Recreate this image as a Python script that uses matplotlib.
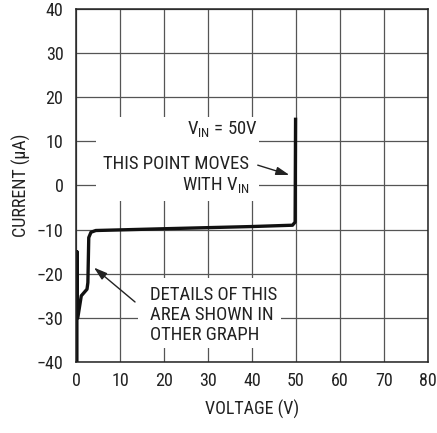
import matplotlib
matplotlib.use("Agg")
import matplotlib.pyplot as plt
from matplotlib.patches import Rectangle

fam = "Roboto Condensed"
plt.rcParams['font.family'] = [fam, 'DejaVu Sans']
plt.rcParams['mathtext.fontset'] = 'custom'
plt.rcParams['mathtext.rm'] = fam
plt.rcParams['mathtext.it'] = fam

# Data
voltage = [0.2, 0.2, 0.2, 0.4, 1.2, 2.5, 2.7, 2.9, 3.4, 4.5, 20.0, 40.0, 49.2, 49.8, 49.9]
current = [-40, -15, -30, -30, -25, -23.5, -22, -11.8, -10.6, -10.2, -9.8, -9.3, -9.0, -8.3, 15]

x_ticks = [0, 10, 20, 30, 40, 50, 60, 70, 80]
y_ticks = [-40, -30, -20, -10, 0, 10, 20, 30, 40]

fig = plt.figure(figsize=(4.37, 4.33), dpi=100)
ax = fig.add_axes([76/437, 1 - 362/433, 352/437, 353/433])

ax.plot(voltage, current, color='#111111', lw=2.4, solid_joinstyle='round', zorder=5)

ax.set_xlim(0, 80)
ax.set_ylim(-40, 40)
ax.set_xticks(x_ticks)
ax.set_yticks(y_ticks)
ax.grid(True, color='#555555', lw=0.9, zorder=0)
ax.set_axisbelow(True)
ax.tick_params(length=0, labelsize=13, colors='#222222')
ax.tick_params(axis='y', pad=9)
ax.tick_params(axis='x', pad=7)
for s in ax.spines.values():
    s.set_color('#222222')
    s.set_linewidth(1.1)
    s.set_zorder(6)

ax.set_xlabel('VOLTAGE (V)', fontsize=13, color='#222222')
ax.set_ylabel('CURRENT (µA)', fontsize=13, color='#222222')
ax.xaxis.set_label_coords(0.5, -0.108)
ax.yaxis.set_label_coords(-0.128, 0.5)

# white blocks behind the annotation text
ax.add_patch(Rectangle((4.6, -3.4), 36.9, 18.9, fc='white', ec='none', zorder=2))
ax.add_patch(Rectangle((14.1, -36.8), 32.6, 15.8, fc='white', ec='none', zorder=2))

tc = '#222222'
ax.text(41.3, 12.7, r'V$_{\mathrm{IN}}$ = 50V', ha='right', va='center', fontsize=13.5, color=tc, zorder=4)
ax.text(39.3, 4.8, 'THIS POINT MOVES', ha='right', va='center', fontsize=13.5, color=tc, zorder=4)
ax.text(39.5, 0, r'WITH V$_{\mathrm{IN}}$', ha='right', va='center', fontsize=13.5, color=tc, zorder=4)
ax.annotate('', xy=(49.1, 2.2), xytext=(40.7, 4.8),
            arrowprops=dict(arrowstyle='-|>,head_length=0.8,head_width=0.25', color=tc, lw=1.0), zorder=6)

ax.text(16.8, -29.3, 'DETAILS OF THIS\nAREA SHOWN IN\nOTHER GRAPH', ha='left', va='center', fontsize=13.5,
        color=tc, linespacing=1.15, zorder=4)
ax.annotate('', xy=(3.6, -18.2), xytext=(13.9, -26.8),
            arrowprops=dict(arrowstyle='-|>,head_length=0.8,head_width=0.25', color=tc, lw=1.0), zorder=6)

fig.savefig('out.png', dpi=100)
